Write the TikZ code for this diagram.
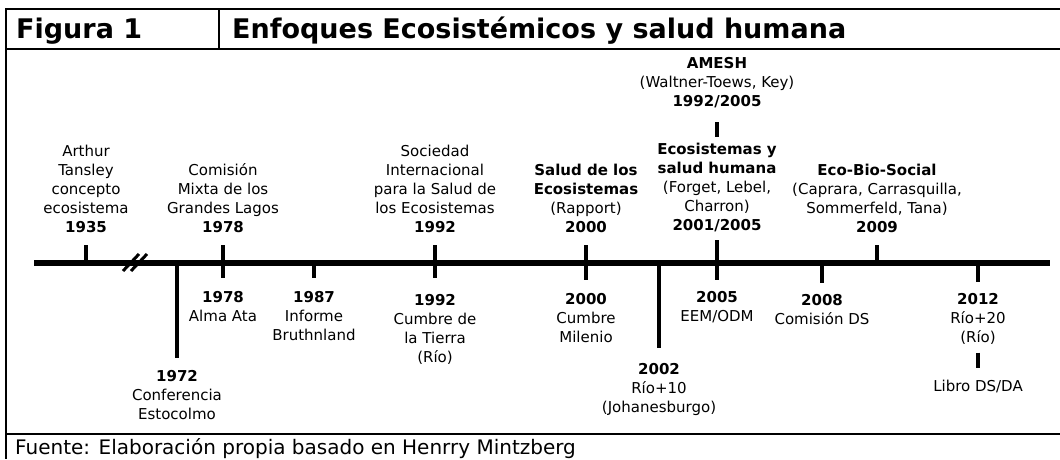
\documentclass[tikz,border=0pt]{standalone}
\usepackage{fontspec}
\setmainfont{DejaVu Sans}
\tikzset{
  lbl/.style={align=center, inner sep=0pt, font=\fontsize{15}{19}\selectfont},
  headtxt/.style={anchor=base west, inner sep=0pt, font=\fontsize{27}{31}\selectfont\bfseries},
  frameline/.style={line width=2.5pt},
  axisline/.style={line width=6pt},
  yeartick/.style={line width=3.5pt},
  brkline/.style={line width=3pt},
}

\begin{document}
\begin{tikzpicture}[x=1pt,y=-1pt]
			%%%%% FRAME %%%%%
			\useasboundingbox (0,0) rectangle (1060,459);
			\draw[frameline] (1060,9) -- (6,9) -- (6,459);
			\draw[frameline] (6,49) -- (1060,49);
			\draw[frameline] (6,434) -- (1060,434);
			\draw[frameline] (219,9) -- (219,49);
			
			\node[headtxt] (fig) at (16,38) {Figura 1};
			\node[headtxt] (title) at (232,38) {Enfoques Ecosistémicos y salud humana};
			\node[anchor=base west, inner sep=0pt, font=\fontsize{20}{24}\selectfont] (fuente) at (15,454) {Fuente: Elaboración propia basado en Henrry Mintzberg};
			
			%%%%% AXIS %%%%%
			\coordinate (axL) at (34,263);
			\coordinate (axR) at (1050,263);
			\draw[axisline] (axL) -- (axR);
			
			\coordinate (brk) at (135,263);
			\draw[brkline] (brk) ++(-12,8) -- ++(16,-17);
			\draw[brkline] (brk) ++(-4,8) -- ++(16,-17);
			
			\coordinate (x1935) at (86,263);
			\coordinate (x1972) at (177,263);
			\coordinate (x1987) at (314,263);
			\coordinate (x2002) at (659,263);
			\coordinate (x2008) at (822,263);
			\coordinate (x2009) at (877,263);
			\coordinate (x2012) at (978,263);
			
			%%%%% ABOVE %%%%%
			\node[lbl, anchor=south] (t1935) at (86,232.5) {Arthur\\Tansley\\concepto\\ecosistema\\\textbf{1935}};
			\node[lbl, anchor=south] (c1978) at (223,232.5) {Comisión\\Mixta de los\\Grandes Lagos\\\textbf{1978}};
			\node[lbl, anchor=south] (s1992) at (435,232.5) {Sociedad\\Internacional\\para la Salud de\\los Ecosistemas\\\textbf{1992}};
			\node[lbl, anchor=south] (s2000) at (586,232.5) {\textbf{Salud de los}\\\textbf{Ecosistemas}\\(Rapport)\\\textbf{2000}};
			\node[lbl, anchor=south] (e2005) at (717,232.5) {\textbf{Ecosistemas y}\\\textbf{salud humana}\\(Forget, Lebel,\\Charron)\\\textbf{2001/2005}};
			\node[lbl, anchor=south] (amesh) at (717,108) {\textbf{AMESH}\\(Waltner-Toews, Key)\\\textbf{1992/2005}};
			\node[lbl, anchor=south] (b2009) at (877,232.5) {\textbf{Eco-Bio-Social}\\(Caprara, Carrasquilla,\\Sommerfeld, Tana)\\\textbf{2009}};
			
			%%%%% BELOW %%%%%
			\node[lbl, anchor=north] (c1972) at (177,370.5) {\textbf{1972}\\Conferencia\\Estocolmo};
			\node[lbl, anchor=north] (a1978) at (223,291.5) {\textbf{1978}\\Alma Ata};
			\node[lbl, anchor=north] (i1987) at (314,291.5) {\textbf{1987}\\Informe\\Bruthnland};
			\node[lbl, anchor=north] (r1992) at (435,294.5) {\textbf{1992}\\Cumbre de\\la Tierra\\(Río)};
			\node[lbl, anchor=north] (m2000) at (586,293.5) {\textbf{2000}\\Cumbre\\Milenio};
			\node[lbl, anchor=north] (j2002) at (659,363.5) {\textbf{2002}\\Río+10\\(Johanesburgo)};
			\node[lbl, anchor=north] (o2005) at (717,291.5) {\textbf{2005}\\EEM/ODM};
			\node[lbl, anchor=north] (d2008) at (822,294.5) {\textbf{2008}\\Comisión DS};
			\node[lbl, anchor=north] (r2012) at (978,293) {\textbf{2012}\\Río+20\\(Río)};
			\node[lbl, anchor=north] (libro) at (978,379.5) {Libro DS/DA};
			
			%%%%% TICKS %%%%%
			\draw[yeartick, shorten <=12.5pt] (t1935) -- (x1935);
			\draw[yeartick, shorten >=12.5pt] (x1972) -- (c1972);
			\draw[yeartick, shorten <=12.5pt, shorten >=13.5pt] (c1978) -- (a1978);
			\draw[yeartick, shorten >=13.5pt] (x1987) -- (i1987);
			\draw[yeartick, shorten <=12.5pt, shorten >=16.5pt] (s1992) -- (r1992);
			\draw[yeartick, shorten <=12.5pt, shorten >=13.5pt] (s2000) -- (m2000);
			\draw[yeartick, shorten >=15.5pt] (x2002) -- (j2002);
			\draw[yeartick, shorten <=7.5pt, shorten >=11.5pt] (e2005) -- (o2005);
			\draw[yeartick, shorten >=11.5pt] (x2008) -- (d2008);
			\draw[yeartick, shorten <=12.5pt] (b2009) -- (x2009);
			\draw[yeartick, shorten >=11pt] (x2012) -- (r2012);
			
			\draw[yeartick, shorten <=14pt, shorten >=6pt] (amesh) -- (e2005);
			\draw[yeartick, shorten <=8pt, shorten >=11.5pt] (r2012) -- (libro);
			
			%%%%% END %%%%%
\end{tikzpicture}
\end{document}
